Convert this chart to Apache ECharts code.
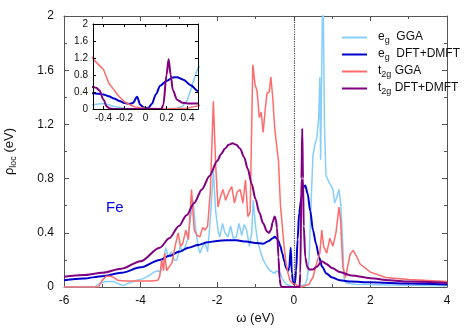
<!DOCTYPE html>
<html><head><meta charset="utf-8">
<script src="https://cdn.jsdelivr.net/npm/echarts@6/dist/echarts.min.js"></script>
<style>html,body{margin:0;padding:0;background:#fff}#c{width:471px;height:330px}</style>
</head><body><div id="c"></div>
<script>
// ---- data (omega in eV, rho_loc) ----
const egGGA_x = [-6,-5.2,-5.05,-4.9,-4.7,-4.55,-4.45,-4.3,-4.1,-3.95,-3.8,-3.65,-3.55,-3.48,-3.4,-3.34,-3.28,-3.2,-3.12,-3.05,-2.97,-2.9,-2.83,-2.76,-2.7,-2.63,-2.57,-2.5,-2.45,-2.38,-2.32,-2.25,-2.18,-2.1,-2.04,-1.97,-1.93,-1.86,-1.8,-1.72,-1.65,-1.58,-1.5,-1.43,-1.36,-1.3,-1.23,-1.16,-1.1,-1.06,-1.0,-0.94,-0.88,-0.8,-0.7,-0.62,-0.5,-0.45,-0.4,-0.35,-0.3,-0.25,-0.2,-0.1,0,0.1,0.2,0.3,0.35,0.4,0.45,0.5,0.55,0.6,0.65,0.68,0.7,0.72,0.76,0.8,0.84,0.88,0.92,0.97,1.02,1.07,1.12,1.18,1.23,1.28,1.31,1.36,1.6,2.5,4];
const egGGA_y = [0,0,0.03,0.04,0.04,0.02,0.01,0.03,0.05,0.06,0.08,0.11,0.12,0.11,0.2,0.29,0.22,0.26,0.2,0.2,0.3,0.26,0.3,0.37,0.5,0.64,0.45,0.3,0.25,0.3,0.33,0.26,0.5,0.86,0.56,0.4,0.37,0.47,0.4,0.37,0.45,0.36,0.37,0.47,0.38,0.46,0.42,0.3,0.4,0.64,0.45,0.33,0.27,0.2,0.15,0.12,0.1,0.12,0.13,0.1,0.06,0.04,0.02,0.01,0,0,0.01,0.02,0.06,0.21,0.61,0.97,1.05,1.1,1.25,1.55,0.94,1.4,2.3,1.2,0.82,0.8,0.77,0.75,0.72,0.62,0.66,0.72,0.6,0.3,0.07,0.03,0.02,0.015,0.01];

const egDMFT_x = [-6,-5.5,-5,-4.5,-4,-3.5,-3.25,-3,-2.75,-2.5,-2.25,-2,-1.75,-1.5,-1.25,-1,-0.8,-0.65,-0.55,-0.5,-0.45,-0.4,-0.35,-0.3,-0.25,-0.2,-0.15,-0.12,-0.08,-0.05,-0.02,0,0.03,0.06,0.1,0.14,0.2,0.26,0.3,0.36,0.43,0.5,0.58,0.66,0.74,0.85,1.0,1.2,1.5,2,3,4];
const egDMFT_y = [0.05,0.062,0.08,0.105,0.145,0.2,0.23,0.26,0.29,0.31,0.33,0.34,0.345,0.345,0.335,0.325,0.32,0.34,0.36,0.37,0.36,0.34,0.3,0.25,0.19,0.14,0.12,0.14,0.29,0.1,0.04,0.02,0.03,0.12,0.35,0.55,0.66,0.74,0.75,0.69,0.56,0.42,0.32,0.22,0.15,0.1,0.07,0.05,0.04,0.035,0.025,0.018];

const t2gGGA_x = [-6,-5.1,-5.0,-4.9,-4.8,-4.7,-4.6,-4.4,-4.0,-3.7,-3.55,-3.5,-3.45,-3.4,-3.37,-3.32,-3.25,-3.18,-3.1,-3.02,-2.96,-2.9,-2.82,-2.75,-2.67,-2.6,-2.52,-2.45,-2.38,-2.32,-2.25,-2.18,-2.1,-2.04,-1.98,-1.92,-1.85,-1.78,-1.7,-1.62,-1.55,-1.48,-1.4,-1.33,-1.26,-1.2,-1.14,-1.07,-1.01,-0.96,-0.9,-0.85,-0.8,-0.75,-0.7,-0.64,-0.6,-0.55,-0.5,-0.45,-0.4,-0.35,-0.3,-0.25,-0.2,-0.15,-0.1,-0.05,0,0.1,0.2,0.3,0.4,0.45,0.5,0.6,0.68,0.73,0.78,0.86,0.94,1.02,1.1,1.18,1.22,1.28,1.35,1.47,1.55,1.65,1.73,2.0,2.4,3.0,4.0];
const t2gGGA_y = [0,0,0.05,0.08,0.08,0.07,0.05,0.045,0.045,0.045,0.05,0.08,0.2,0.12,0.25,0.12,0.15,0.18,0.3,0.4,0.3,0.32,0.42,0.35,0.72,0.42,0.38,0.37,0.44,0.42,0.45,0.7,1.37,0.9,0.59,0.66,0.72,0.64,0.7,0.74,0.62,0.7,0.72,0.62,0.79,0.52,0.55,1.64,1.49,1.45,1.25,1.29,1.14,1.3,1.43,1.44,1.55,1.4,1.18,1.05,0.93,0.61,0.45,0.29,0.17,0.1,0.05,0.03,0.02,0.01,0,0.01,0.02,0.05,0.07,0.18,0.25,0.42,0.3,0.25,0.36,0.3,0.4,0.59,0.5,0.15,0.07,0.24,0.27,0.22,0.17,0.11,0.07,0.055,0.04];

const t2gDMFT_x = [-6,-5.5,-5,-4.5,-4,-3.5,-3.25,-3,-2.8,-2.6,-2.4,-2.2,-2,-1.9,-1.8,-1.7,-1.6,-1.5,-1.4,-1.3,-1.2,-1.1,-1.0,-0.9,-0.8,-0.7,-0.65,-0.6,-0.55,-0.5,-0.47,-0.44,-0.4,-0.37,-0.34,-0.3,0.15,0.17,0.2,0.22,0.24,0.26,0.3,0.35,0.4,0.5,0.6,0.73,0.85,1.0,1.2,1.5,2,2.5,3,4];
const t2gDMFT_y = [0.075,0.088,0.105,0.135,0.19,0.29,0.36,0.45,0.53,0.62,0.72,0.82,0.93,0.98,1.02,1.05,1.06,1.05,1.02,0.96,0.87,0.76,0.65,0.55,0.47,0.41,0.4,0.42,0.48,0.52,0.5,0.44,0.22,0.06,0.01,0,0,0.1,0.8,1.17,0.8,0.45,0.22,0.15,0.13,0.13,0.15,0.19,0.17,0.14,0.11,0.085,0.065,0.05,0.04,0.03];

const xTicksMain = [-6,-4,-2,0,2,4];
const yTicksMain = [0,0.4,0.8,1.2,1.6,2];
const xTicksInset = [-0.4,-0.2,0,0.2,0.4];
const yTicksInset = [0,0.4,0.8,1.2,1.6,2];

const names = ['egGGA','egDMFT','t2gGGA','t2gDMFT'];
const labels = {
  egGGA: '{sp|}{b|e}{s|g}{b|  GGA}',
  egDMFT: '{sp|}{b|e}{s|g}{b|  DFT+DMFT}',
  t2gGGA: '{sp|}{b|t}{s|2g}{b| GGA}',
  t2gDMFT: '{sp|}{b|t}{s|2g}{b| DFT+DMFT}'
};
const colors = {egGGA:'#87CEFA', egDMFT:'#0000CD', t2gGGA:'#FF6B6B', t2gDMFT:'#800080'};
const widths = {egGGA:1.5, egDMFT:2, t2gGGA:1.5, t2gDMFT:2};
const dataSets = {
  egGGA: egGGA_x.map((x,i)=>[x,egGGA_y[i]]),
  egDMFT: egDMFT_x.map((x,i)=>[x,egDMFT_y[i]]),
  t2gGGA: t2gGGA_x.map((x,i)=>[x,t2gGGA_y[i]]),
  t2gDMFT: t2gDMFT_x.map((x,i)=>[x,t2gDMFT_y[i]])
};
const FONT = 'Liberation Sans, Arial, sans-serif';
const mainAxisColor = '#555';

function mkSeries(name, xi, yi, z) {
  const smooth = name.indexOf('DMFT')>=0 ? 0.3 : false;
  return {
    type:'line', name, xAxisIndex:xi, yAxisIndex:yi, data:dataSets[name],
    symbol:'none', showSymbol:false, smooth, smoothMonotone:'x', clip:true, z,
    lineStyle:{color:colors[name], width:widths[name]}, itemStyle:{color:colors[name]},
    animation:false
  };
}
const series = [];
names.forEach((n,i)=>series.push(mkSeries(n,0,0,2+i)));
names.forEach((n,i)=>series.push(mkSeries(n,2,2,12+i)));
series[0].markLine = {symbol:'none', silent:true, animation:false, label:{show:false},
  lineStyle:{type:'dotted', color:'#444', width:1.2}, data:[{xAxis:0}]};
series[4].markLine = {symbol:'none', silent:true, animation:false, label:{show:false},
  lineStyle:{type:'dashed', color:'#444', width:1}, data:[{xAxis:0}]};

const chart = echarts.init(document.getElementById('c'), null, {renderer:'canvas'});
chart.setOption({
  animation:false,
  backgroundColor:'#fff',
  title:{text:'Fe', left:101, top:195, textStyle:{color:'#0000EE', fontSize:15, fontWeight:'normal', fontFamily:FONT}},
  legend:{
    data:names, orient:'vertical', left:337, top:26, icon:'rect', itemWidth:25, itemHeight:2, itemGap:3,
    formatter: n=>labels[n],
    textStyle:{fontFamily:FONT, color:'#111', rich:{
      sp:{width:6},
      b:{fontSize:12, fontFamily:FONT, lineHeight:13, verticalAlign:'top', color:'#111'},
      s:{fontSize:9, fontFamily:FONT, lineHeight:10, padding:[5,0,0,0], verticalAlign:'top', color:'#111'}
    }}
  },
  grid:[
    {left:64, top:16, width:383, height:271, show:false, outerBoundsMode:'none', containLabel:false},
    {left:64, top:16, width:383, height:271, show:false, outerBoundsMode:'none', containLabel:false},
    {left:93, top:24, width:105, height:85, show:true, backgroundColor:'#fff', borderWidth:0, z:10, outerBoundsMode:'none', containLabel:false}
  ],
  xAxis:[
    {type:'value', gridIndex:0, min:-6, max:4, interval:2, position:'bottom',
     name:'ω (eV)', nameLocation:'middle', nameGap:25, nameTextStyle:{fontFamily:FONT, fontSize:13, color:'#111'},
     axisLine:{show:true, lineStyle:{color:mainAxisColor, width:1}},
     axisTick:{show:true, inside:true, length:5, lineStyle:{color:mainAxisColor}},
     minorTick:{show:true, splitNumber:2, length:3, lineStyle:{color:mainAxisColor}},
     axisLabel:{fontFamily:FONT, fontSize:12, color:'#111', margin:8},
     splitLine:{show:false}},
    {type:'value', gridIndex:1, min:-6, max:4, interval:2, position:'top',
     axisLine:{show:true, onZero:false, lineStyle:{color:mainAxisColor, width:1}},
     axisTick:{show:true, inside:true, length:5, lineStyle:{color:mainAxisColor}},
     minorTick:{show:true, splitNumber:2, length:3, lineStyle:{color:mainAxisColor}},
     axisLabel:{show:false}, splitLine:{show:false}},
    {type:'value', gridIndex:2, min:-0.5, max:0.5, position:'bottom',
     axisLine:{show:true, onZero:false, lineStyle:{color:'#000', width:1}},
     axisTick:{show:true, inside:true, length:3, customValues:xTicksInset, lineStyle:{color:'#000'}},
     axisLabel:{customValues:xTicksInset, fontFamily:FONT, fontSize:10, color:'#111', margin:4,
       formatter:v=>(Math.abs(v)<1e-9?'0':String(Math.round(v*10)/10))},
     splitLine:{show:false}, z:20},
    {type:'value', gridIndex:2, min:-0.5, max:0.5, position:'top',
     axisLine:{show:true, onZero:false, lineStyle:{color:'#000', width:1}},
     axisTick:{show:true, inside:true, length:3, customValues:xTicksInset, lineStyle:{color:'#000'}},
     axisLabel:{show:false}, splitLine:{show:false}, z:20}
  ],
  yAxis:[
    {type:'value', gridIndex:0, min:0, max:2, interval:0.4, position:'left',
     name:'{r|ρ}{s|loc}{r| (eV)}', nameLocation:'middle', nameGap:47, nameRotate:90,
     nameTextStyle:{fontFamily:FONT, color:'#111', rich:{
       r:{fontSize:13, fontFamily:FONT, lineHeight:14, verticalAlign:'top', color:'#111'},
       s:{fontSize:9, fontFamily:FONT, lineHeight:10, padding:[6,0,0,0], verticalAlign:'top', color:'#111'}}},
     axisLine:{show:true, onZero:false, lineStyle:{color:mainAxisColor, width:1}},
     axisTick:{show:true, inside:true, length:5, lineStyle:{color:mainAxisColor}},
     minorTick:{show:true, splitNumber:2, length:3, lineStyle:{color:mainAxisColor}},
     axisLabel:{fontFamily:FONT, fontSize:12, color:'#111', margin:10,
       formatter:v=>String(Math.round(v*10)/10)},
     splitLine:{show:false}},
    {type:'value', gridIndex:1, min:0, max:2, interval:0.4, position:'right',
     axisLine:{show:true, onZero:false, lineStyle:{color:mainAxisColor, width:1}},
     axisTick:{show:true, inside:true, length:5, lineStyle:{color:mainAxisColor}},
     minorTick:{show:true, splitNumber:2, length:3, lineStyle:{color:mainAxisColor}},
     axisLabel:{show:false}, splitLine:{show:false}},
    {type:'value', gridIndex:2, min:0, max:2, interval:0.4, position:'left',
     axisLine:{show:true, onZero:false, lineStyle:{color:'#000', width:1}},
     axisTick:{show:true, inside:true, length:3, lineStyle:{color:'#000'}},
     axisLabel:{fontFamily:FONT, fontSize:10, color:'#111', margin:5,
       formatter:v=>String(Math.round(v*10)/10)},
     splitLine:{show:false}, z:20},
    {type:'value', gridIndex:2, min:0, max:2, interval:0.4, position:'right',
     axisLine:{show:true, onZero:false, lineStyle:{color:'#000', width:1}},
     axisTick:{show:true, inside:true, length:3, lineStyle:{color:'#000'}},
     axisLabel:{show:false}, splitLine:{show:false}, z:20}
  ],
  series
});
</script>
</body></html>
